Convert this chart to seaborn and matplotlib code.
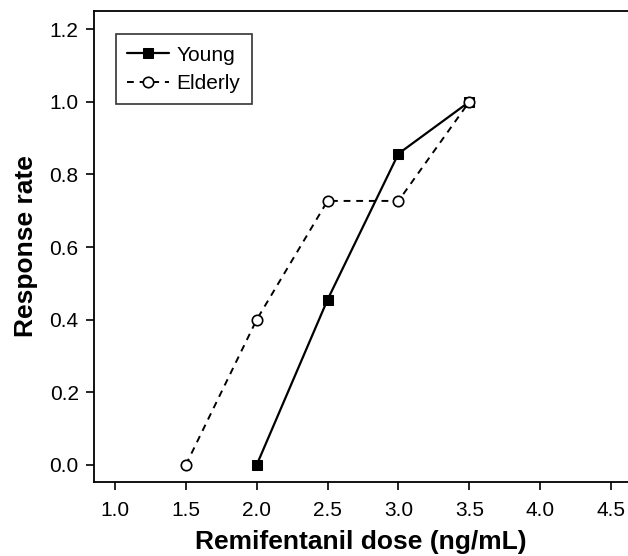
import matplotlib
matplotlib.use("Agg")
import matplotlib.pyplot as plt
import seaborn as sns
import pandas as pd

young_dose = [2.0, 2.5, 3.0, 3.5]
young_rate = [0.0, 0.455, 0.857, 1.0]
elderly_dose = [1.5, 2.0, 2.5, 3.0, 3.5]
elderly_rate = [0.0, 0.4, 0.727, 0.727, 1.0]
x_ticks = [1.0, 1.5, 2.0, 2.5, 3.0, 3.5, 4.0, 4.5]
y_ticks = [0.0, 0.2, 0.4, 0.6, 0.8, 1.0, 1.2]

sns.set_theme(style="ticks")
plt.rcParams['font.family'] = ['Liberation Sans', 'DejaVu Sans']
plt.rcParams['text.color'] = 'black'
plt.rcParams['axes.labelcolor'] = 'black'

df_y = pd.DataFrame({"dose": young_dose, "rate": young_rate})
df_e = pd.DataFrame({"dose": elderly_dose, "rate": elderly_rate})

fig = plt.figure(figsize=(6.28, 5.56), dpi=100)
ax = fig.add_axes([94/628, 1-482/556, 1-94/628, (482-11)/556])

sns.lineplot(data=df_y, x="dose", y="rate", ax=ax, color="black", linestyle="-",
             marker="s", markersize=7, markerfacecolor="black", markeredgecolor="black",
             linewidth=1.6, label="Young")
sns.lineplot(data=df_e, x="dose", y="rate", ax=ax, color="black", linestyle=(0, (3.5, 3)),
             marker="o", markersize=7.5, markerfacecolor="white", markeredgecolor="black",
             markeredgewidth=1.2, linewidth=1.4, label="Elderly")

ax.set_xlim(0.852, 4.62)
ax.set_ylim(-0.047, 1.25)
ax.set_xticks(x_ticks)
ax.set_yticks(y_ticks)
ax.set_xticklabels([f"{v:.1f}" for v in x_ticks])
ax.set_yticklabels([f"{v:.1f}" for v in y_ticks])
ax.tick_params(axis="both", direction="out", length=6, width=1.2, colors="black",
               labelsize=15, pad=5)
ax.tick_params(axis="x", pad=8)
for s in ["left", "bottom", "top"]:
    ax.spines[s].set_linewidth(1.3)
    ax.spines[s].set_color("black")
ax.spines["right"].set_visible(False)

ax.set_xlabel("Remifentanil dose (ng/mL)", fontsize=19, fontweight="bold", labelpad=7)
ax.set_ylabel("Response rate", fontsize=19, fontweight="bold", labelpad=8)

leg = ax.legend(loc="upper left", bbox_to_anchor=(0.041, 0.951), frameon=True, fancybox=False,
                edgecolor="black", fontsize=15, handlelength=2.0, handletextpad=0.35,
                borderpad=0.55, labelspacing=0.45, borderaxespad=0)
leg.get_frame().set_linewidth(1.2)
for t in leg.get_texts():
    t.set_color("black")

fig.savefig("out.png", dpi=100)
